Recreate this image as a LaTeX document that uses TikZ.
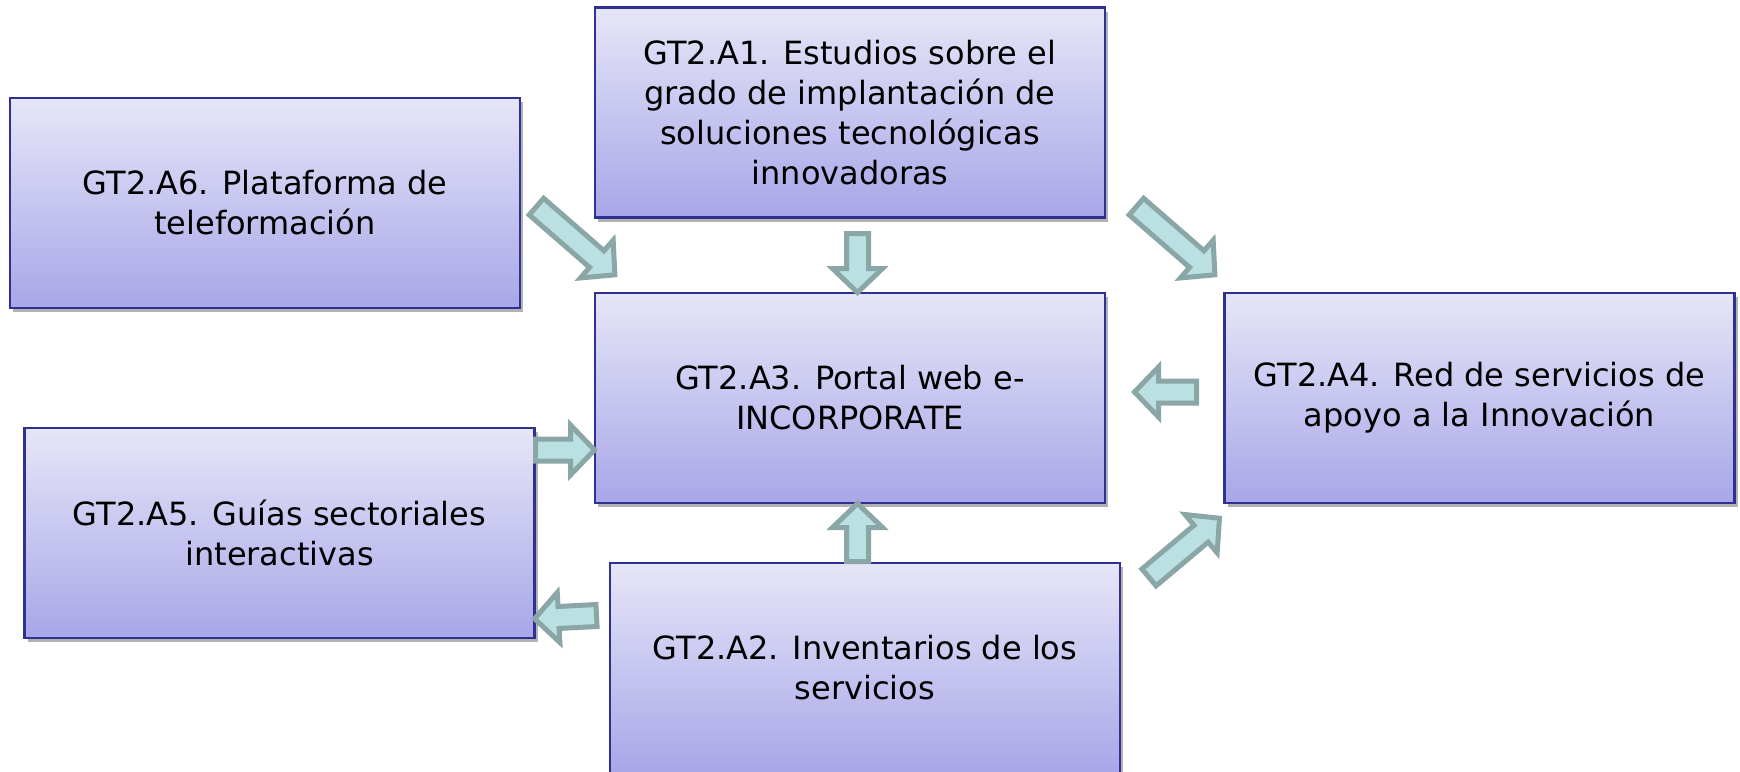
\documentclass[tikz,border=0pt]{standalone}
\usepackage{fontspec}
\setmainfont{DejaVu Sans}
\usetikzlibrary{shadows}
\definecolor{boxtop}{RGB}{230,230,248}
\definecolor{boxbot}{RGB}{168,166,232}
\definecolor{boxline}{RGB}{46,49,146}
\definecolor{arrfill}{RGB}{186,224,225}
\definecolor{arrline}{RGB}{138,166,166}
\tikzset{
 gtbox/.style={draw=boxline, line width=1.2pt, top color=boxtop, bottom color=boxbot,
   minimum width=255pt, minimum height=105pt, inner sep=0pt, outer sep=0pt,
   align=center, font=\fontsize{16}{20}\selectfont,
   drop shadow={shadow xshift=1.5pt, shadow yshift=-2pt, fill=black, opacity=0.3}},
 blockarrow/.style={draw=arrline, fill=arrfill, line width=2.5pt, line join=miter}
}
\newcommand\myarrow[4]{%
 \draw[blockarrow, shift={(#1,#2)}, rotate=#3] (0,-11) -- ({#4-24},-11) -- ({#4-24},-25) -- (#4,0) -- ({#4-24},25) -- ({#4-24},11) -- (0,11) -- cycle;}
\begin{document}
\begin{tikzpicture}[x=0.5pt,y=-0.5pt]
\useasboundingbox (0,0) rectangle (1740,771);
\clip (0,0) rectangle (1740,771);
\node[gtbox] (a1) at (850,112.5) {GT2.A1. Estudios sobre el\\grado de implantación de\\soluciones tecnológicas\\innovadoras};
\node[gtbox] (a6) at (265,203) {GT2.A6. Plataforma de\\teleformación};
\node[gtbox] (a3) at (850,398) {GT2.A3. Portal web e-\\INCORPORATE};
\node[gtbox] (a4) at (1479.5,398) {GT2.A4. Red de servicios de\\apoyo a la Innovación};
\node[gtbox] (a5) at (279.5,533) {GT2.A5. Guías sectoriales\\interactivas};
\node[gtbox] (a2) at (865,668) {GT2.A2. Inventarios de los\\servicios};
% block arrows
\myarrow{857.5}{233.5}{-90}{59}
\myarrow{857.5}{561.5}{90}{58}
\myarrow{535.5}{450}{0}{59}
\myarrow{1196.5}{392}{180}{62}
\myarrow{596.5}{615.5}{183}{62}
\myarrow{536.4}{206.6}{-41}{104}
\myarrow{1136.4}{206.6}{-41}{104}
\myarrow{1149}{577.4}{40}{92}
\end{tikzpicture}
\end{document}
